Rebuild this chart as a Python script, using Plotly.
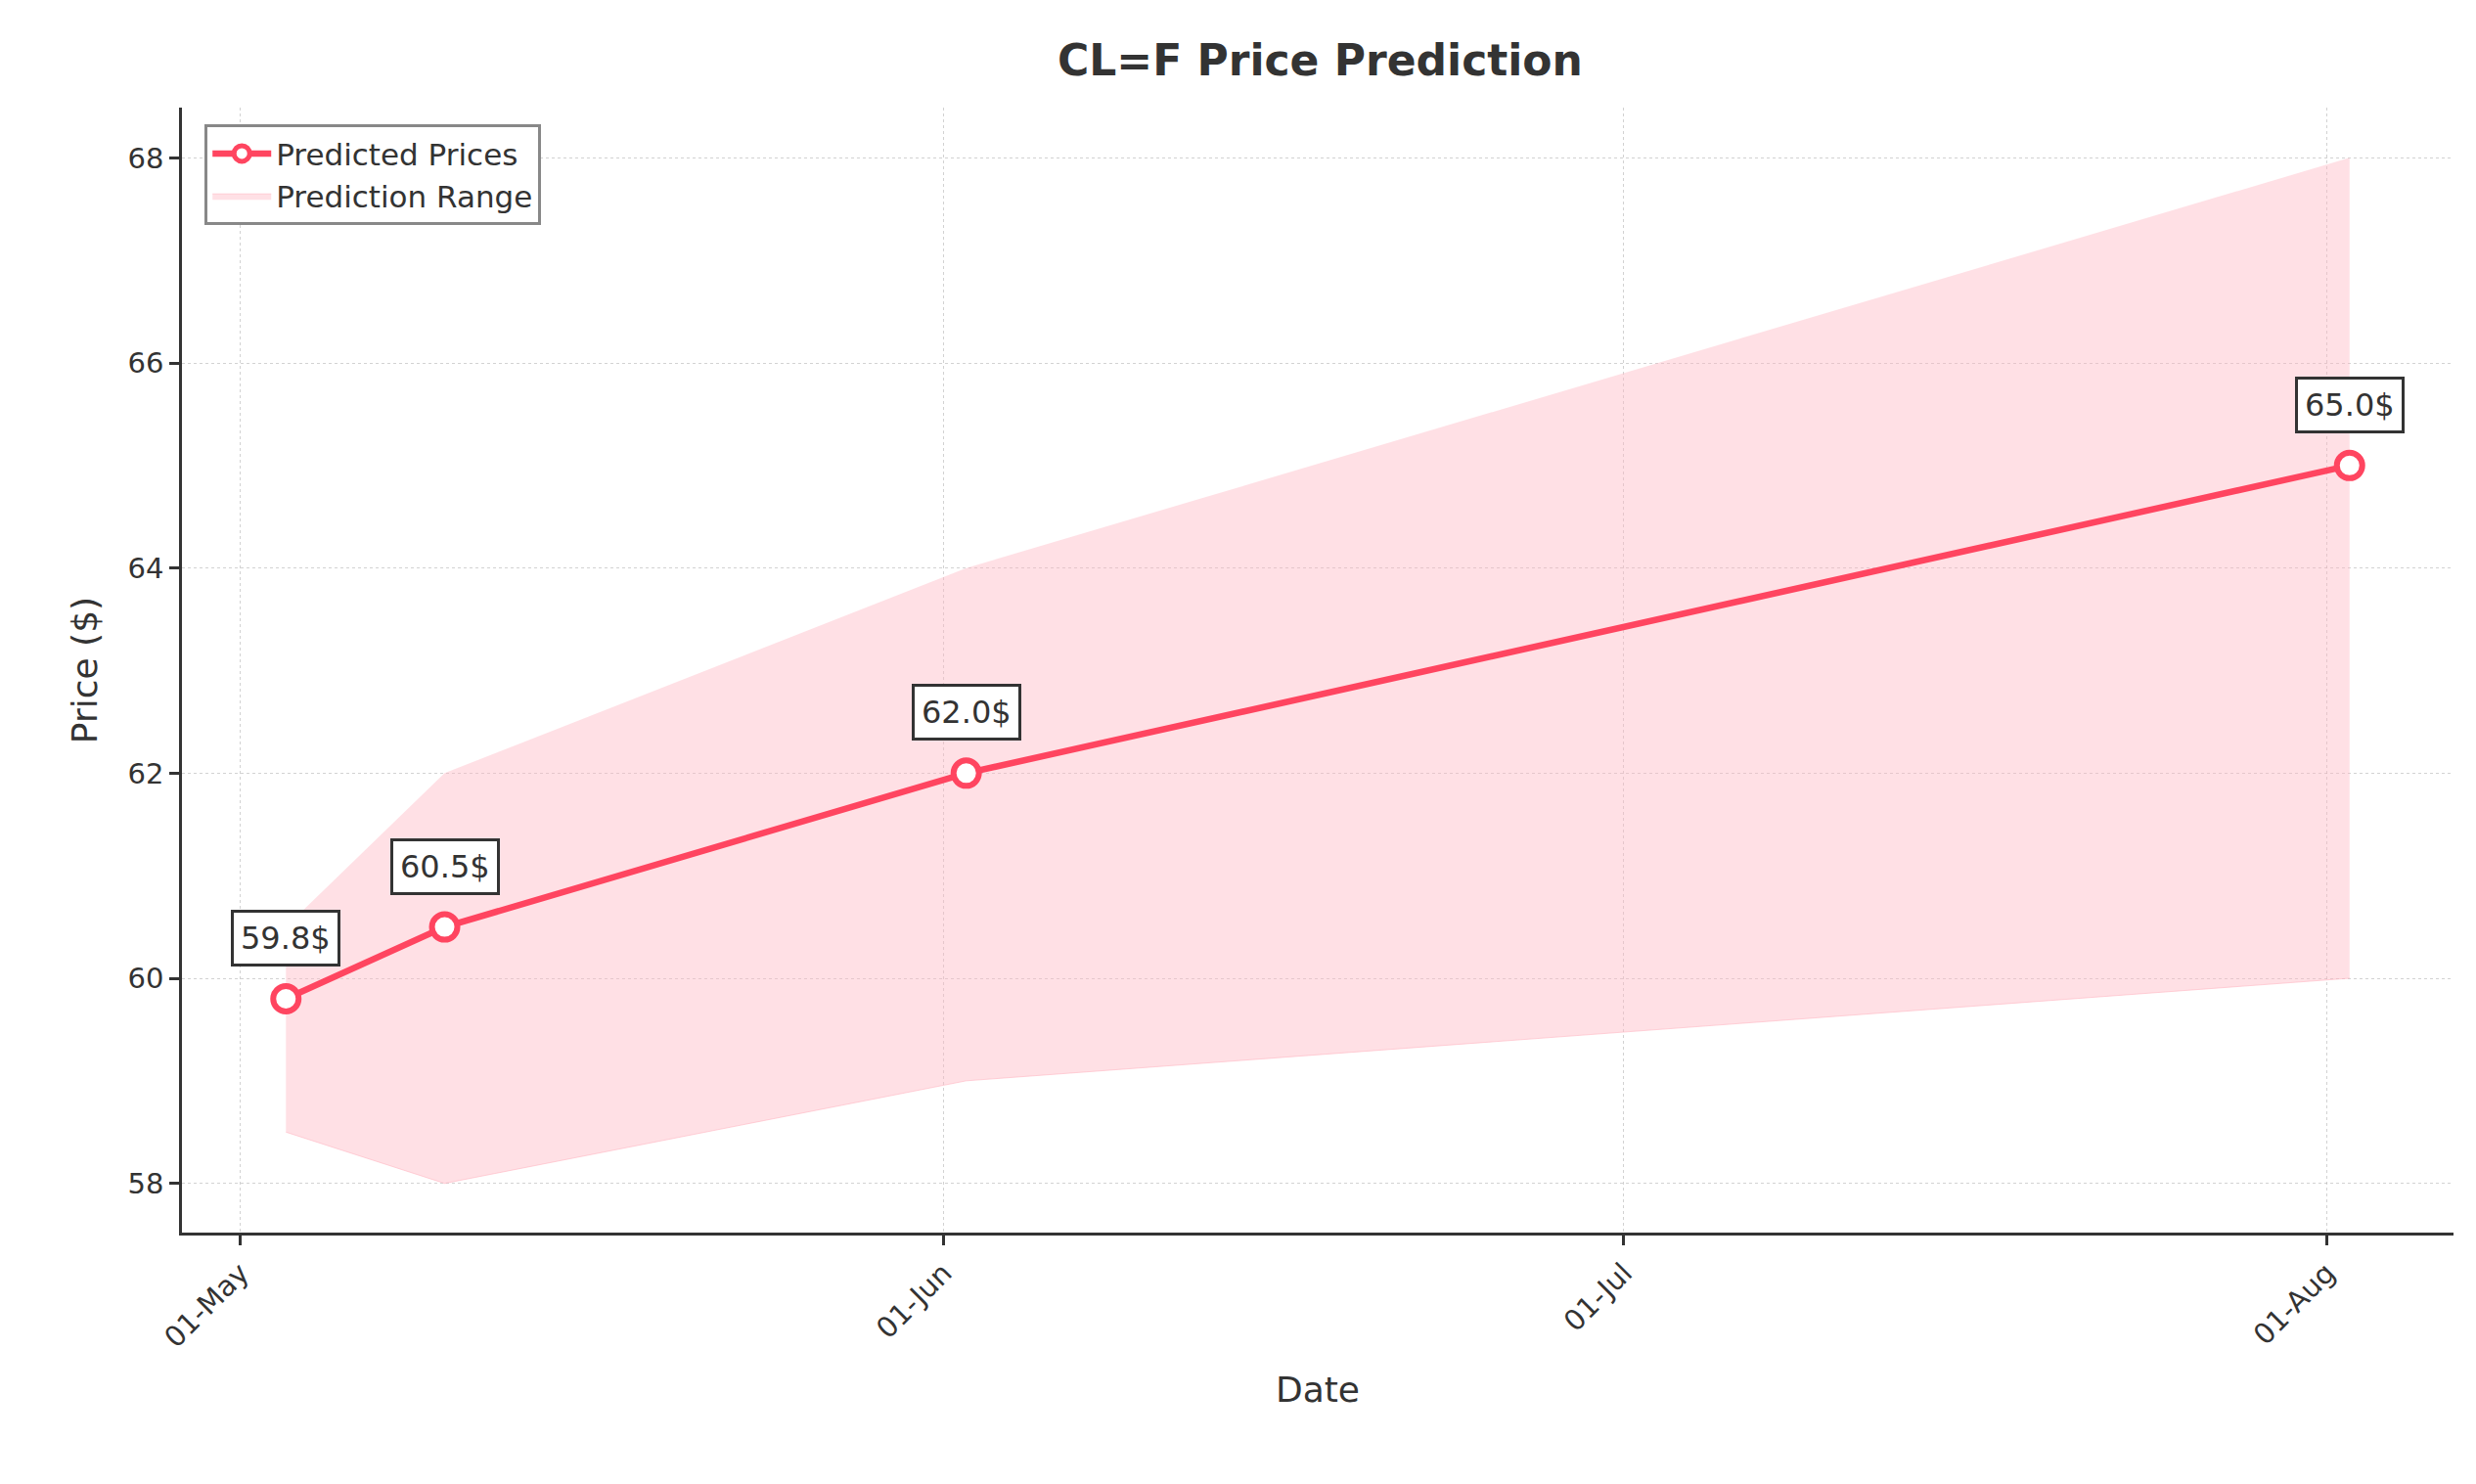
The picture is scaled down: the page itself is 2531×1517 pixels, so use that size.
import plotly.graph_objects as go

dates = ["2025-05-03", "2025-05-10", "2025-06-02", "2025-08-02"]
predicted = [59.8, 60.5, 62.0, 65.0]
upper = [60.5, 62.0, 64.0, 68.0]
lower = [58.5, 58.0, 59.0, 60.0]
tick_dates = ["2025-05-01", "2025-06-01", "2025-07-01", "2025-08-01"]
tick_labels = ["01-May", "01-Jun", "01-Jul", "01-Aug"]

RED = "#ff4560"
FONT = "DejaVu Sans"

fig = go.Figure()
fig.add_trace(go.Scatter(x=dates, y=upper, mode="lines", line=dict(width=0),
                         showlegend=False, hoverinfo="skip"))
fig.add_trace(go.Scatter(x=dates, y=lower, mode="lines", fill="tonexty",
                         fillcolor="rgba(255,182,193,0.42)",
                         line=dict(color="rgba(255,182,193,0.6)", width=1),
                         name="Prediction Range"))
fig.add_trace(go.Scatter(x=dates, y=predicted, mode="lines+markers",
                         line=dict(color=RED, width=6.5),
                         marker=dict(size=26, color="white", line=dict(color=RED, width=6)),
                         name="Predicted Prices"))

for d, p in zip(dates, predicted):
    fig.add_annotation(x=d, y=p, text=f"{p}$", showarrow=False, yshift=62,
                       font=dict(family=FONT, size=32, color="#333"),
                       bgcolor="white", bordercolor="#333", borderwidth=3, borderpad=7)

axis_common = dict(showline=True, linecolor="#333", linewidth=2.5, ticks="outside",
                   tickcolor="#333", ticklen=10, tickwidth=2.5,
                   showgrid=True, gridcolor="rgba(180,180,180,0.6)", griddash="dot",
                   tickfont=dict(family=FONT, size=29, color="#333"), zeroline=False)

fig.update_layout(
    width=2531, height=1517, plot_bgcolor="white", paper_bgcolor="white",
    margin=dict(l=178, r=31, t=102, b=265),
    title=dict(text="<b>CL=F Price Prediction</b>", x=0.53, y=0.975, xanchor="center",
               font=dict(family=FONT, size=44, color="#333")),
    xaxis=dict(axis_common, range=["2025-04-28 10:00", "2025-08-06 14:00"],
               tickvals=tick_dates, ticktext=tick_labels, tickangle=-45,
               title=dict(text="Date", standoff=25,
                          font=dict(family=FONT, size=36, color="#333"))),
    yaxis=dict(axis_common, range=[57.52, 68.49], tickvals=[58, 60, 62, 64, 66, 68],
               title=dict(text="Price ($)", standoff=20,
                          font=dict(family=FONT, size=36, color="#333"))),
    legend=dict(x=0.01, y=0.985, xanchor="left", yanchor="top", bgcolor="white",
                bordercolor="#888", borderwidth=3, itemwidth=60,
                font=dict(family=FONT, size=31, color="#333")),
)

fig.write_html("out.html")
